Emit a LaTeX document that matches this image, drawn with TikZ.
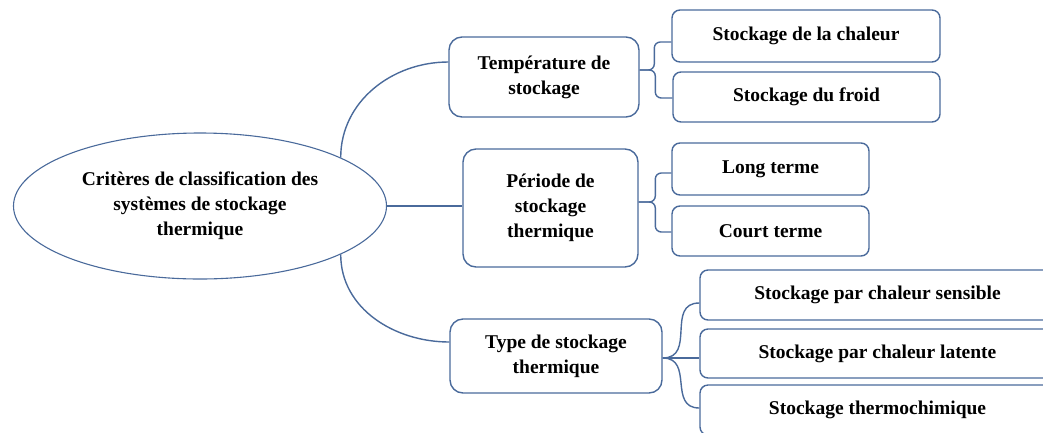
\documentclass[tikz,border=0pt]{standalone}
\usepackage{fontspec}
\setmainfont{Liberation Serif}
\usetikzlibrary{shapes.geometric}
\definecolor{edge}{HTML}{4A6A9B}
\begin{document}
\begin{tikzpicture}[x=1pt,y=1pt,
  txt/.style={font=\bfseries\fontsize{19.5}{25}\selectfont, text=black, align=center, inner sep=0pt},
  parent/.style={txt, draw=edge, line width=1.4pt, rounded corners=13pt},
  child/.style={txt, draw=edge, line width=1.4pt, rounded corners=8pt},
  conn/.style={draw=edge, line width=1.4pt}]
\useasboundingbox (0,0) rectangle (1043,-432);
\clip (0,0) rectangle (1043,-432);
% root
\node[txt, ellipse, draw=edge, line width=1.1pt, minimum width=373pt, minimum height=146pt] (e) at (200,-206)
  {Critères de classification des\\systèmes de stockage\\thermique};
% parents
\node[parent, minimum width=190pt, minimum height=80pt] (t) at (544,-77) {Température de\\stockage};
\node[parent, minimum width=175pt, minimum height=118pt] (p) at (550.5,-208) {Période de\\stockage\\thermique};
\node[parent, minimum width=212pt, minimum height=74pt] (ty) at (556,-356) {Type de stockage\\thermique};
% children
\node[child, minimum width=268pt, minimum height=52pt] (c1) at (806,-36) {Stockage de la chaleur};
\node[child, minimum width=267pt, minimum height=50pt] (c2) at (806.5,-97) {Stockage du froid};
\node[child, minimum width=197pt, minimum height=52pt] (c3) at (770.5,-169) {Long terme};
\node[child, minimum width=197pt, minimum height=50pt] (c4) at (770.5,-231) {Court terme};
\node[child, minimum width=355pt, minimum height=50pt] (c5) at (877.5,-295) {Stockage par chaleur sensible};
\node[child, minimum width=355pt, minimum height=49pt] (c6) at (877.5,-353.5) {Stockage par chaleur latente};
\node[child, minimum width=355pt, minimum height=50pt] (c7) at (877.5,-410) {Stockage thermochimique};
% root connectors
\draw[conn] (e.19) to[out=90,in=180] ([yshift=15pt]t.west);
\draw[conn] (e.east) -- (e.east -| p.west);
\draw[conn] (e.-19) to[out=-90,in=180] ([yshift=14pt]ty.west);
% brackets
\draw[conn, rounded corners=6pt] ([yshift=7pt]t.east) -| ([xshift=-17pt,yshift=-6pt]c1.west) -- ([yshift=-6pt]c1.west);
\draw[conn, rounded corners=6pt] ([yshift=7pt]t.east) -| ([xshift=-17pt,yshift=-1pt]c2.west) -- ([yshift=-1pt]c2.west);
\draw[conn, rounded corners=6pt] ([yshift=6pt]p.east) -| ([xshift=-16pt,yshift=-4pt]c3.west) -- ([yshift=-4pt]c3.west);
\draw[conn, rounded corners=6pt] ([yshift=6pt]p.east) -| ([xshift=-16pt,yshift=-1pt]c4.west) -- ([yshift=-1pt]c4.west);
\draw[conn] ([yshift=-2pt]ty.east) to[out=0,in=180,looseness=1.3] ([yshift=-8pt]c5.west);
\draw[conn] ([yshift=-2pt]ty.east) -- ([yshift=-2pt]ty.east -| c6.west);
\draw[conn] ([yshift=-2pt]ty.east) to[out=0,in=180,looseness=1.3] ([yshift=2pt]c7.west);
\end{tikzpicture}
\end{document}
